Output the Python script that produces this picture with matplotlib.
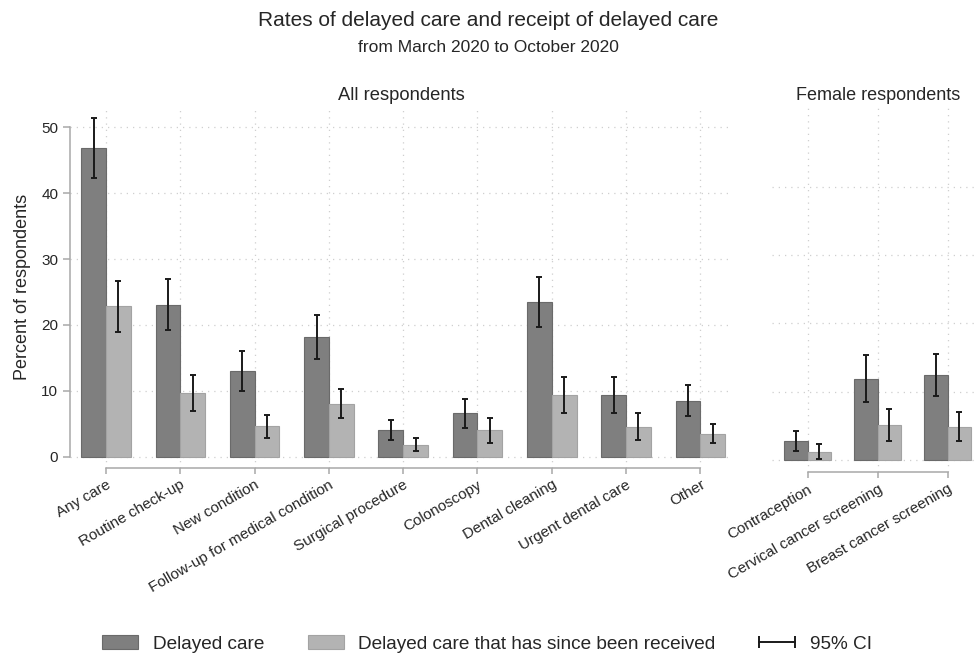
import matplotlib
matplotlib.use('Agg')
import matplotlib.pyplot as plt
from matplotlib.patches import Patch
from matplotlib.lines import Line2D
from matplotlib.legend_handler import HandlerLine2D
import numpy as np

plt.rcParams['font.family'] = ['Liberation Sans', 'DejaVu Sans']

# all respondents
cats_all = ['Any care', 'Routine check-up', 'New condition',
            'Follow-up for medical condition', 'Surgical procedure',
            'Colonoscopy', 'Dental cleaning', 'Urgent dental care', 'Other']
delayed = [46.8, 23.0, 13.0, 18.1, 4.0, 6.6, 23.5, 9.3, 8.5]
delayed_lo = [42.3, 19.2, 10.0, 14.8, 2.5, 4.4, 19.7, 6.6, 6.2]
delayed_hi = [51.4, 26.9, 16.1, 21.5, 5.5, 8.8, 27.3, 12.1, 10.9]
received = [22.8, 9.7, 4.6, 8.0, 1.8, 4.0, 9.3, 4.5, 3.5]
received_lo = [19.0, 7.0, 2.9, 5.8, 0.9, 2.0, 6.6, 2.5, 2.1]
received_hi = [26.7, 12.4, 6.4, 10.2, 2.9, 5.9, 12.1, 6.6, 5.0]

# female respondents
cats_fem = ['Contraception', 'Cervical cancer screening', 'Breast cancer screening']
f_delayed = [2.8, 11.9, 12.4]
f_delayed_lo = [1.3, 8.5, 9.3]
f_delayed_hi = [4.3, 15.4, 15.5]
f_received = [1.1, 5.1, 4.9]
f_received_lo = [0.1, 2.8, 2.8]
f_received_hi = [2.3, 7.4, 7.0]

dark = '#7f7f7f'
dark_edge = '#6a6a6a'
light = '#b3b3b3'
light_edge = '#a3a3a3'
axis_col = '#a8a8a8'
grid_col = '#cfcfcf'
txt = '#262626'
w = 1 / 3

fig = plt.figure(figsize=(9.76, 6.57), dpi=100)


def panel(ax, cats, d, dlo, dhi, r, rlo, rhi, xlim, ylim, yticks):
    x = np.arange(len(cats))
    d, dlo, dhi = np.array(d), np.array(dlo), np.array(dhi)
    r, rlo, rhi = np.array(r), np.array(rlo), np.array(rhi)
    ax.bar(x - w / 2, d, w, color=dark, edgecolor=dark_edge, linewidth=0.8, zorder=2)
    ax.bar(x + w / 2, r, w, color=light, edgecolor=light_edge, linewidth=0.8, zorder=2)
    ax.errorbar(x - w / 2, d, yerr=[d - dlo, dhi - d], fmt='none', ecolor='#1a1a1a',
                elinewidth=1.4, capsize=2.4, capthick=1.4, zorder=3)
    ax.errorbar(x + w / 2, r, yerr=[r - rlo, rhi - r], fmt='none', ecolor='#1a1a1a',
                elinewidth=1.4, capsize=2.4, capthick=1.4, zorder=3)
    ax.set_xlim(*xlim)
    ax.set_ylim(*ylim)
    ax.set_xticks(x)
    ax.set_xticklabels(cats, rotation=30, ha='right', va='top',
                       rotation_mode='anchor', fontsize=11, color=txt)
    ax.set_yticks(yticks)
    ax.grid(True, color=grid_col, linestyle=(0, (1, 4)), linewidth=0.9, zorder=0)
    ax.set_axisbelow(True)
    for s in ['top', 'right']:
        ax.spines[s].set_visible(False)
    ax.spines['bottom'].set_bounds(0, len(cats) - 1)
    ax.spines['bottom'].set_color(axis_col)
    ax.spines['bottom'].set_linewidth(1.1)
    ax.tick_params(axis='x', length=4.5, width=1.1, color=axis_col, pad=2.5)


ax1 = fig.add_axes([70 / 976, 189 / 657, 663 / 976, 360 / 657])
panel(ax1, cats_all, delayed, delayed_lo, delayed_hi, received, received_lo,
      received_hi, (-0.4845, 8.439), (-1.72, 52.93), [0, 10, 20, 30, 40, 50])
ax1.spines['left'].set_bounds(0, 50)
ax1.spines['left'].set_color(axis_col)
ax1.spines['left'].set_linewidth(1.1)
ax1.tick_params(axis='y', length=5, width=1.1, color=axis_col, pad=3.4,
                labelsize=11, labelcolor=txt)

ax2 = fig.add_axes([771.7 / 976, 184.7 / 657, 204.3 / 976, 365.3 / 657])
panel(ax2, cats_fem, f_delayed, f_delayed_lo, f_delayed_hi, f_received,
      f_received_lo, f_received_hi, (-0.514, 2.404), (-1.8, 51.68), [0, 10, 20, 30, 40])
ax2.spines['left'].set_visible(False)
ax2.tick_params(axis='y', length=0, labelleft=False)

fig.text(0.5, 1 - 20 / 657, 'Rates of delayed care and receipt of delayed care',
         ha='center', va='center', fontsize=15, color=txt)
fig.text(0.5, 1 - 47 / 657, 'from March 2020 to October 2020',
         ha='center', va='center', fontsize=12.5, color=txt)
fig.text(401.5 / 976, 1 - 95 / 657, 'All respondents', ha='center', va='center',
         fontsize=13.2, color=txt)
fig.text(878 / 976, 1 - 95 / 657, 'Female respondents', ha='center', va='center',
         fontsize=13, color=txt)
fig.text(23 / 976, 1 - 287 / 657, 'Percent of respondents', rotation=90,
         ha='center', va='center', fontsize=13, color=txt)

ci_handle = Line2D([0], [0], color='#1a1a1a', linewidth=1.4, marker='|',
                   markersize=8, markeredgewidth=1.4)
handles = [
    Patch(facecolor=dark, edgecolor=dark_edge, linewidth=0.8),
    Patch(facecolor=light, edgecolor=light_edge, linewidth=0.8),
    ci_handle,
]
labels = ['Delayed care', 'Delayed care that has since been received', '95% CI']
fig.legend(handles, labels, loc='center', bbox_to_anchor=(0.499, 13 / 657),
           ncol=3, frameon=False, fontsize=13.7, handlelength=1.9,
           handletextpad=0.75, columnspacing=2.3, numpoints=2, labelcolor=txt,
           handler_map={ci_handle: HandlerLine2D(numpoints=2, marker_pad=0)})

fig.savefig('out.png', dpi=100)
